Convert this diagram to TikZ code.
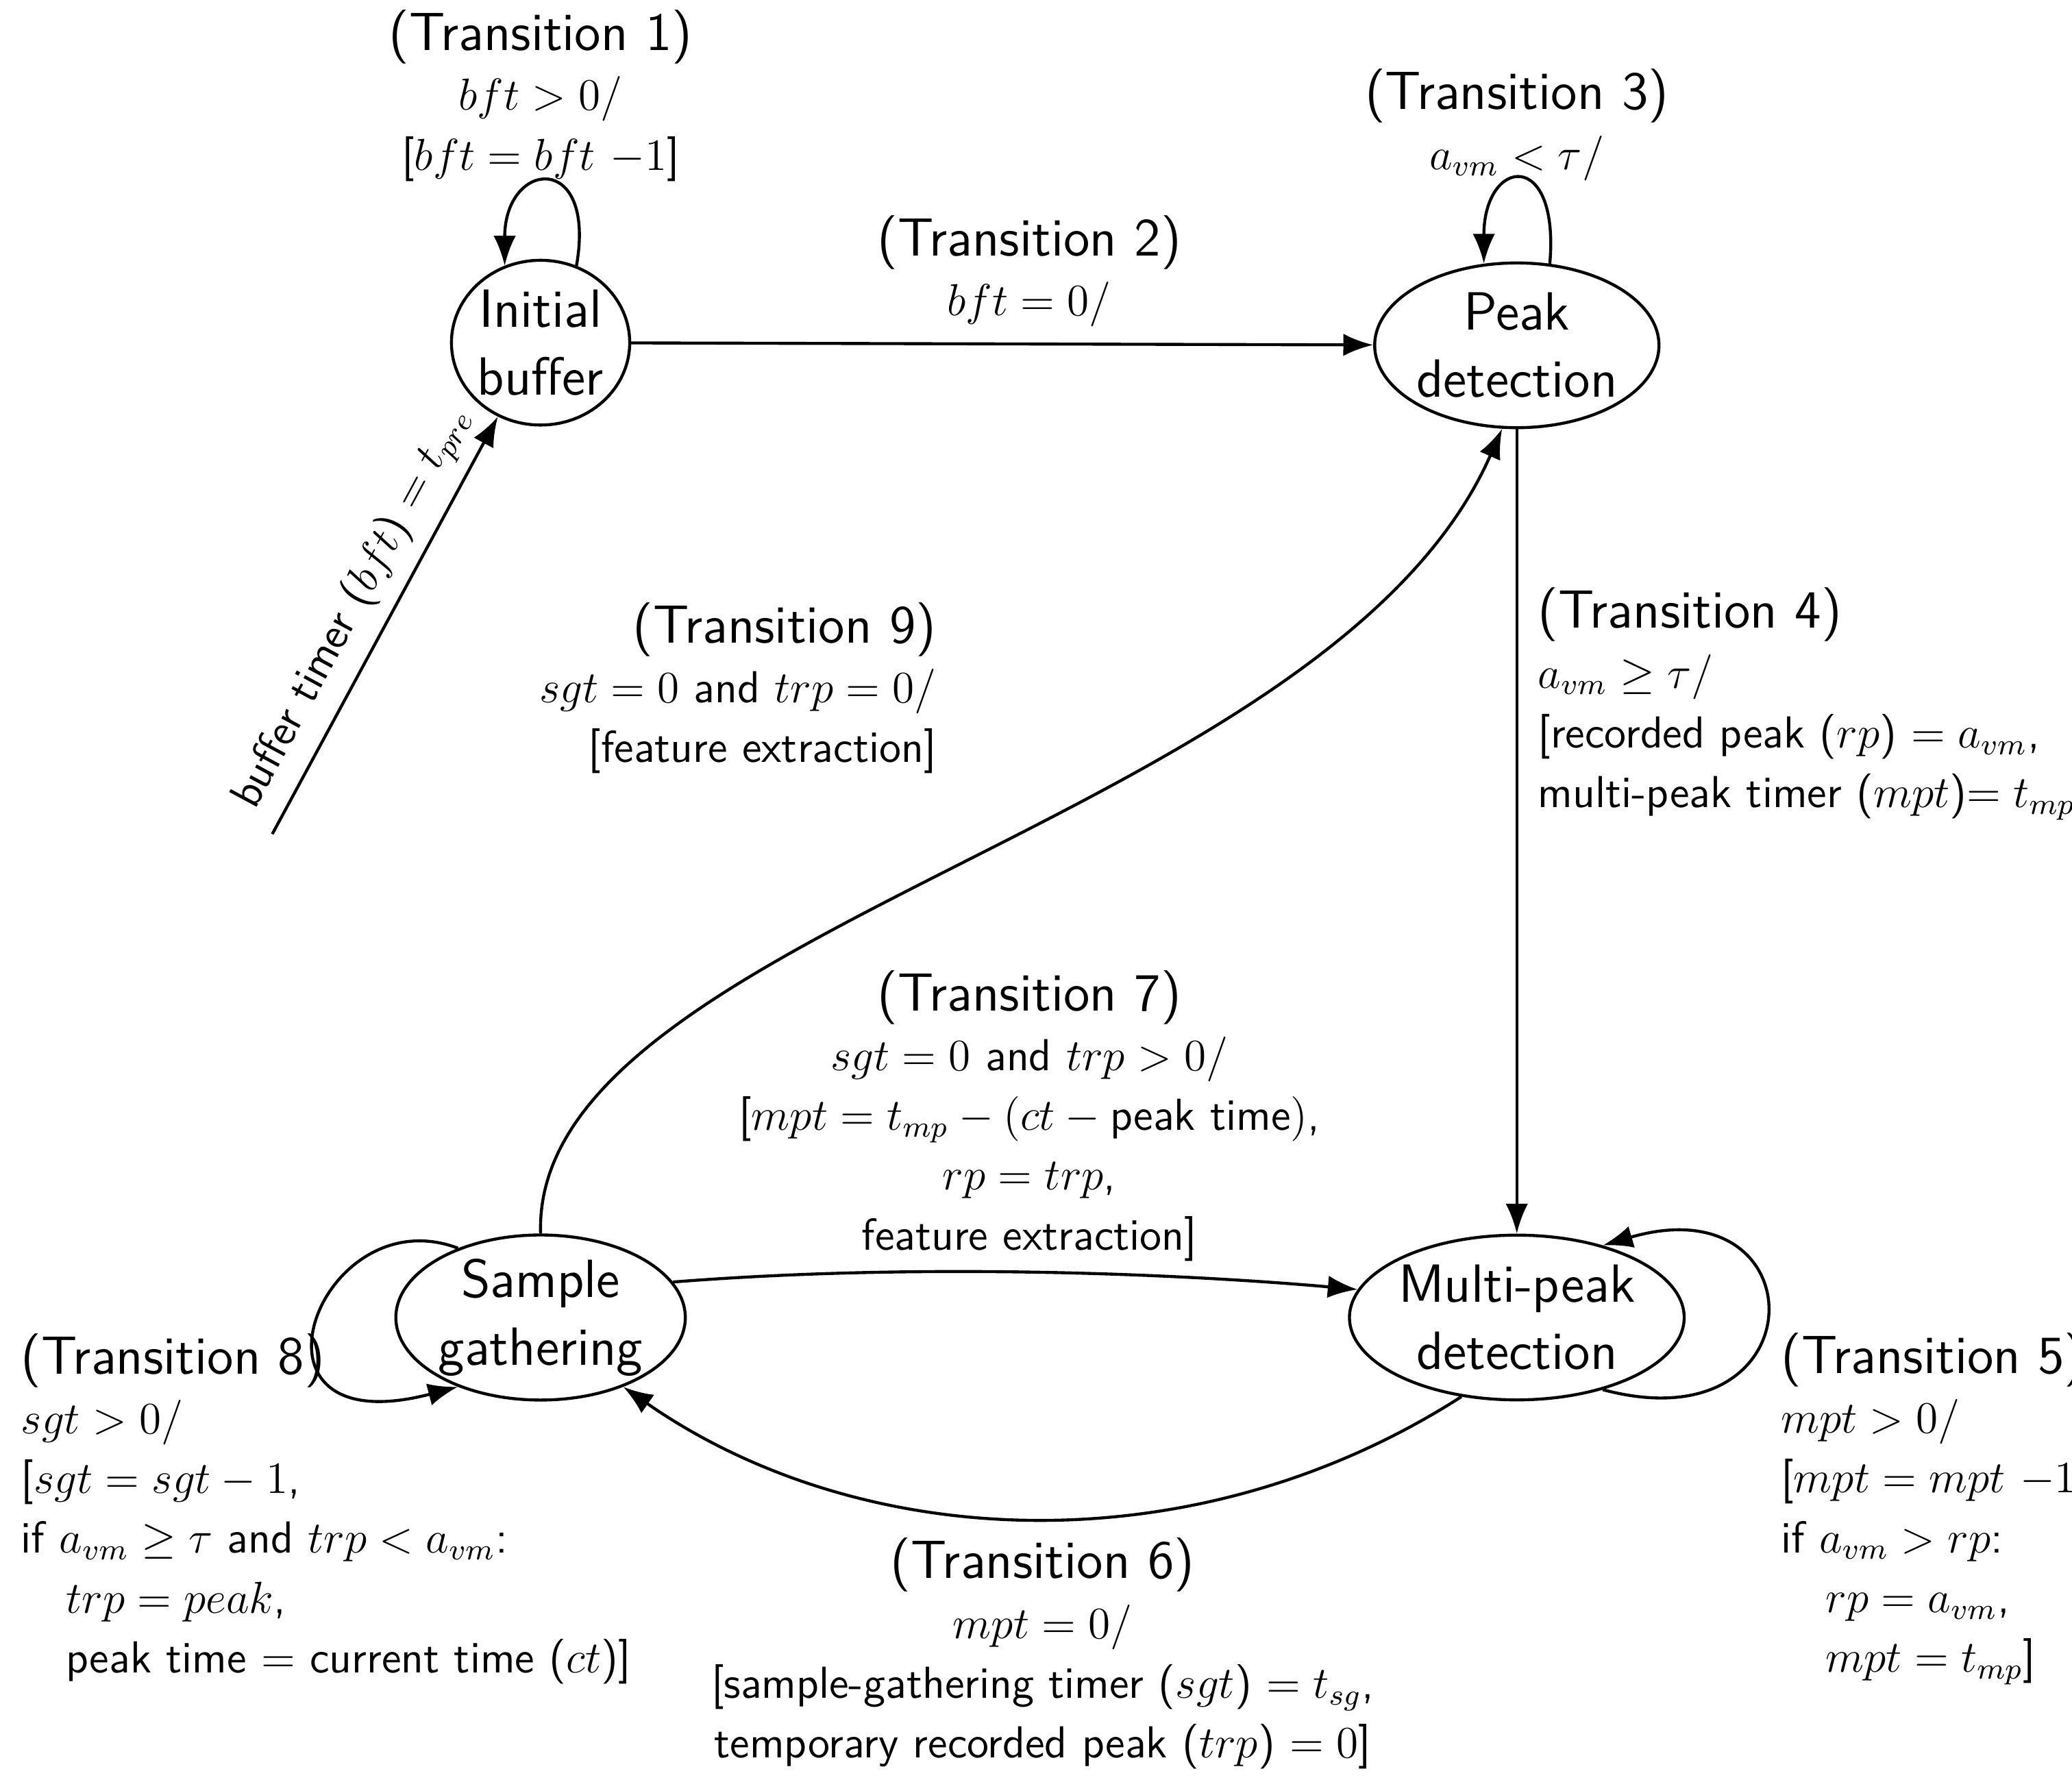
\documentclass[tikz,border=0pt]{standalone}
\usetikzlibrary{positioning,arrows.meta,shapes.geometric}
\renewcommand{\familydefault}{\sfdefault}
\tikzset{
  state/.style = {ellipse, draw, thick, align=center, font=\Large, inner sep=0pt},
  lbl/.style = {align=center, font=\large},
  tr/.style = {->, >={Latex[length=8pt,width=6pt]}, thick}
}
\newcommand{\hd}[1]{{\Large (Transition #1)}\\[2pt]}
\begin{document}
\begin{tikzpicture}[x=0.0125cm, y=-0.0125cm]
  \useasboundingbox (0,0) rectangle (1560,1340);
  \node (ib) at (407,258) [state, minimum width=1.55cm, minimum height=1.55cm] {Initial\\buffer};
  \node (pd) at (1142,260) [state, minimum width=2.2cm, minimum height=1.55cm] {Peak\\detection};
  \node (sg) at (407,992) [state, minimum width=2.2cm, minimum height=1.5cm] {Sample\\gathering};
  \node (mp) at (1142,992) [state, minimum width=2.5cm, minimum height=1.55cm] {Multi-peak\\detection};
  \coordinate (start) at (205,628);

  \draw [tr] (start) -- node [sloped, above, font=\large] {buffer timer ($bft$) $= t_{pre}$} (ib.-120);
  \draw [tr] (ib.65) .. controls +(80:1.1cm) and +(90:1cm) .. (ib.115);
  \draw [tr] (pd.68) .. controls +(85:1.1cm) and +(90:1cm) .. (pd.112);
  \draw [tr] (ib) -- (pd);
  \draw [tr] (pd) -- (mp);
  \draw [tr] (sg.north) .. controls (400,700) and (1000,620) .. (pd.-100);
  \draw [tr] (sg.15) .. controls (700,950) and (900,960) .. (mp.170);
  \draw [tr] (mp.-125) .. controls (900,1180) and (650,1170) .. (sg.-40);
  \draw [tr] (sg.140) .. controls (240,900) and (170,1090) .. (sg.-140);
  \draw [tr] (mp.-40) .. controls (1370,1090) and (1370,890) .. (mp.40);

  \node (t1) at (407,72) [lbl] {\hd{1}$bft > 0/$\\[2pt][$bft = bft\ {-1}$]};
  \node (t2) at (775,204) [lbl] {\hd{2}$bft = 0/$};
  \node (t3) at (1142,94) [lbl] {\hd{3}$a_{vm} < \tau/$};
  \node (t4) at (1148,530) [lbl, anchor=west, align=left] {\hd{4}$a_{vm} \geq \tau/$\\[2pt][recorded peak ($rp$) $= a_{vm}$,\\[2pt]multi-peak timer ($mpt$)$= t_{mp}$]};
  \node (t9) at (715,518) [lbl, anchor=east, align=right] {\hd{9}$sgt = 0$ and $trp = 0/$\\[2pt][feature extraction]};
  \node (t7) at (775,840) [lbl] {\hd{7}$sgt = 0$ and $trp > 0/$\\[2pt][$mpt = t_{mp} - (ct -{}$peak time$)$,\\[2pt]$rp = trp$,\\[2pt]feature extraction]};
  \node (t8) at (6,1136) [lbl, anchor=west, align=left] {\hd{8}$sgt > 0/$\\[2pt][$sgt = sgt - 1$,\\[2pt]if $a_{vm} \geq \tau$ and $trp < a_{vm}$:\\[2pt]\quad$trp = peak$,\\[2pt]\quad peak time $=$ current time ($ct$)]};
  \node (t5) at (1331,1136) [lbl, anchor=west, align=left] {\hd{5}$mpt > 0/$\\[2pt][$mpt = mpt\ {-1}$,\\[2pt]if $a_{vm} > rp$:\\[2pt]\quad$rp = a_{vm}$,\\[2pt]\quad$mpt = t_{mp}$]};
  \node (t6) at (785,1245) [lbl] {\hd{6}$mpt = 0/$\\[2pt][sample-gathering timer ($sgt$) $= t_{sg}$,\\[2pt]temporary recorded peak ($trp$) $= 0$]};
\end{tikzpicture}
\end{document}
